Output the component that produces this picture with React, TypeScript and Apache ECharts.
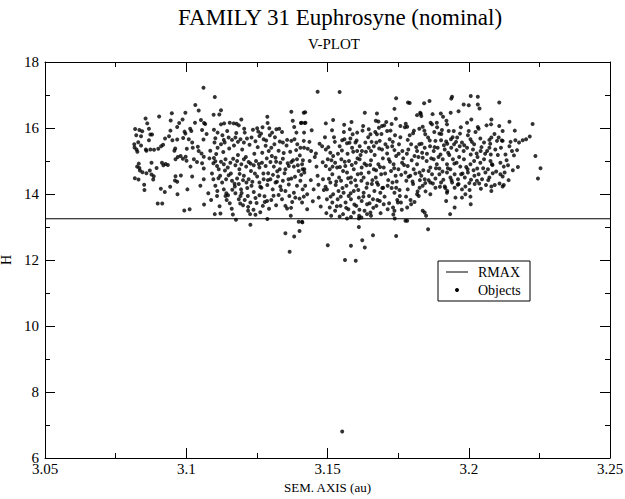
import { useEffect, useRef } from "react";
import * as echarts from "echarts";

// H vs semimajor axis (au)
const leftWing: number[][] = [
[3.0904,16.35],[3.0949,16.45],[3.0856,16.29],[3.0987,16.26],[3.0945,16.23],[3.0862,16.14],[3.0819,15.97],[3.0834,15.94],[3.0868,15.98],[3.0844,15.90],
[3.0873,15.80],[3.0823,15.78],[3.0840,15.75],[3.0879,15.80],[3.0944,15.92],[3.0975,16.15],[3.0968,16.03],[3.0994,15.89],[3.0939,15.75],[3.0925,15.68],
[3.0951,15.63],[3.0968,15.65],[3.0989,15.70],[3.0868,15.63],[3.0830,15.57],[3.0816,15.51],[3.0817,15.41],[3.0840,15.47],[3.0857,15.35],[3.0859,15.31],
[3.0827,15.28],[3.0824,15.35],[3.0873,15.35],[3.0886,15.34],[3.0901,15.37],[3.0918,15.49],[3.0911,15.45],[3.0961,15.38],[3.0958,15.31],[3.0832,14.92],
[3.0826,14.83],[3.0834,14.79],[3.0836,14.71],[3.0845,14.66],[3.0859,14.63],[3.0871,14.71],[3.0877,14.95],[3.0895,14.79],[3.0914,14.95],[3.0927,14.91],
[3.0935,14.88],[3.0919,14.87],[3.0962,15.05],[3.0988,15.07],[3.0818,14.48],[3.0831,14.44],[3.0851,14.28],[3.0852,14.12],[3.0883,14.44],[3.0885,14.54],
[3.0877,14.59],[3.0910,14.16],[3.0924,14.06],[3.0943,14.22],[3.0962,14.54],[3.0960,14.41],[3.0968,14.37],[3.0981,14.56],[3.0969,13.99],[3.0899,13.71],
[3.0915,13.71],[3.0993,13.50],[3.0998,15.13],[3.0970,15.12],[3.0980,15.15]
];

const westCore: number[][] = [
[3.1061,17.22],[3.1101,16.94],[3.1032,16.70],[3.1044,16.53],[3.1097,16.40],[3.1117,16.41],[3.1123,16.54],[3.0997,16.46],[3.1014,15.98],[3.1031,16.16],
[3.1052,16.24],[3.1063,16.15],[3.1067,16.12],[3.0997,15.83],[3.1018,15.91],[3.1056,15.94],[3.1098,15.95],[3.1111,15.86],[3.1123,16.11],[3.1134,16.14],
[3.1154,16.16],[3.1168,16.14],[3.1178,16.13],[3.1186,16.08],[3.1195,16.26],[3.1205,15.98],[3.1251,15.99],[3.1255,15.89],[3.1270,16.02],[3.1287,16.34],
[3.1288,16.15],[3.1294,15.99],[3.1304,15.86],[3.1319,15.96],[3.1329,15.98],[3.1372,16.49],[3.1377,16.22],[3.1382,16.03],[3.1390,15.86],[3.1408,16.16],
[3.1419,16.15],[3.1416,16.46],[3.1009,15.66],[3.1002,15.37],[3.1021,15.56],[3.1023,15.40],[3.1041,15.43],[3.1044,15.30],[3.1061,15.65],[3.1054,15.23],
[3.1062,15.13],[3.1103,15.69],[3.1100,15.56],[3.1111,15.40],[3.1133,15.64],[3.1136,15.56],[3.1123,15.51],[3.1150,15.71],[3.1162,15.64],[3.1174,15.71],
[3.1183,15.58],[3.1192,15.66],[3.1204,15.56],[3.1215,15.68],[3.1231,15.71],[3.1245,15.60],[3.1259,15.76],[3.1274,15.66],[3.1281,15.46],[3.1292,15.30],
[3.1301,15.40],[3.1312,15.51],[3.1331,15.59],[3.1342,15.56],[3.1357,15.64],[3.1372,15.61],[3.1383,15.66],[3.1393,15.51],[3.1404,15.40],[3.1416,15.61],
[3.1001,15.01],[3.1015,14.83],[3.1027,15.05],[3.1038,14.97],[3.1056,14.93],[3.1062,14.77],[3.1021,14.53],[3.1098,15.09],[3.1103,14.99],[3.1109,14.85],
[3.1115,14.75],[3.1123,14.98],[3.1133,14.90],[3.1139,15.05],[3.1147,14.80],[3.1156,14.95],[3.1166,15.07],[3.1174,14.87],[3.1180,15.00],[3.1188,14.75],
[3.1195,14.90],[3.1204,15.05],[3.1212,14.83],[3.1221,14.97],[3.1229,14.70],[3.1239,14.87],[3.1247,15.00],[3.1259,14.80],[3.1268,14.95],[3.1281,14.85],
[3.1290,14.63],[3.1298,14.97],[3.1310,14.83],[3.1316,15.10],[3.1322,14.69],[3.1333,14.95],[3.1342,15.07],[3.1351,14.75],[3.1363,14.85],[3.1372,14.97],
[3.1381,14.83],[3.1392,15.05],[3.1398,14.70],[3.1410,14.90],[3.1418,14.75],[3.1004,14.14],[3.1050,14.25],[3.1062,14.45],[3.1096,14.45],[3.1103,14.25],
[3.1110,14.09],[3.1120,14.55],[3.1127,14.35],[3.1133,14.14],[3.1141,14.45],[3.1150,14.57],[3.1162,14.40],[3.1172,14.23],[3.1180,14.47],[3.1186,14.30],
[3.1194,14.14],[3.1204,14.55],[3.1213,14.35],[3.1221,14.45],[3.1231,14.25],[3.1239,14.06],[3.1251,14.53],[3.1259,14.35],[3.1266,14.19],[3.1274,14.45],
[3.1287,14.27],[3.1298,14.45],[3.1306,14.14],[3.1316,14.35],[3.1325,14.53],[3.1333,14.23],[3.1342,14.40],[3.1351,14.09],[3.1363,14.29],[3.1372,14.47],
[3.1381,14.04],[3.1392,14.25],[3.1404,14.40],[3.1412,14.14],[3.1109,13.94],[3.1139,13.94],[3.1148,13.96],[3.1174,14.02],[3.1186,13.84],[3.1192,13.94],
[3.1207,13.82],[3.1218,13.94],[3.1227,13.74],[3.1245,13.88],[3.1259,13.96],[3.1278,13.76],[3.1286,13.79],[3.1318,13.66],[3.1339,13.84],[3.1351,13.64],
[3.1365,13.94],[3.1375,13.76],[3.1386,13.89],[3.1401,13.86],[3.1410,13.74],[3.1012,13.54],[3.1063,13.68],[3.1101,13.39],[3.1121,13.41],[3.1154,13.72],
[3.1165,13.38],[3.1201,13.66],[3.1219,13.49],[3.1226,13.39],[3.1245,13.37],[3.1271,13.64],[3.1287,13.24],[3.1357,13.56],[3.1370,13.34],[3.1176,13.22],
[3.1227,13.07],[3.1398,13.16],[3.1410,13.16],[3.1351,12.81],[3.1382,12.71],[3.1401,12.88],[3.1366,12.25]
];

const westCoreDense: number[][] = [
[3.1072,15.82],[3.1085,15.31],[3.1091,14.62],[3.1078,14.02],[3.1088,13.82],[3.1106,15.21],[3.1114,14.48],[3.1118,13.63],[3.1128,15.78],[3.1131,15.27],
[3.1137,14.71],[3.1142,14.02],[3.1145,15.91],[3.1152,15.38],[3.1158,14.62],[3.1161,13.55],[3.1169,15.47],[3.1171,14.31],[3.1177,15.85],[3.1183,15.18],
[3.1189,14.61],[3.1191,13.71],[3.1198,15.35],[3.1201,14.42],[3.1207,15.86],[3.1211,15.12],[3.1216,14.18],[3.1219,13.61],[3.1224,15.49],[3.1228,14.92],
[3.1234,14.37],[3.1236,15.95],[3.1241,15.22],[3.1243,14.62],[3.1249,13.73],[3.1253,15.42],[3.1257,14.91],[3.1262,14.22],[3.1265,15.83],[3.1269,15.25],
[3.1273,14.62],[3.1277,13.93],[3.1283,15.62],[3.1285,15.08],[3.1289,14.42],[3.1293,13.55],[3.1296,15.78],[3.1303,15.15],[3.1307,14.58],[3.1309,13.95],
[3.1314,15.72],[3.1318,14.98],[3.1321,14.37],[3.1327,15.31],[3.1331,14.75],[3.1336,14.12],[3.1339,15.88],[3.1345,15.24],[3.1348,14.63],[3.1355,15.47],
[3.1359,14.93],[3.1362,14.45],[3.1368,15.28],[3.1371,13.58],[3.1378,15.02],[3.1385,14.52],[3.1389,15.33],[3.1395,14.87],[3.1402,15.17],[3.1407,14.58],
[3.1413,15.02],[3.1096,14.93],[3.1082,15.08],[3.1143,13.82],[3.1163,14.13],[3.1196,14.03],[3.1238,13.52],[3.1262,13.45],[3.1301,13.82],[3.1327,13.97]
];

const eastCore: number[][] = [
[3.1465,17.10],[3.1543,17.09],[3.1743,16.90],[3.1785,16.77],[3.1791,16.76],[3.1421,16.48],[3.1632,16.46],[3.1675,16.44],[3.1737,16.58],[3.1828,16.46],
[3.1817,16.39],[3.1406,16.15],[3.1422,16.16],[3.1417,15.86],[3.1444,15.93],[3.1494,16.14],[3.1520,16.24],[3.1516,15.93],[3.1559,16.10],[3.1585,16.18],
[3.1579,15.96],[3.1589,15.81],[3.1605,15.86],[3.1626,16.06],[3.1646,15.96],[3.1652,15.81],[3.1671,16.22],[3.1680,16.20],[3.1682,16.01],[3.1675,15.81],
[3.1693,16.06],[3.1701,16.08],[3.1711,15.91],[3.1727,16.12],[3.1758,16.06],[3.1777,16.13],[3.1782,16.04],[3.1803,15.84],[3.1825,15.98],[3.1417,15.40],
[3.1430,15.37],[3.1442,15.30],[3.1459,15.23],[3.1481,15.45],[3.1494,15.35],[3.1510,15.25],[3.1520,15.15],[3.1526,15.58],[3.1543,15.45],[3.1552,15.63],
[3.1560,15.66],[3.1569,15.54],[3.1581,15.68],[3.1587,15.40],[3.1599,15.56],[3.1605,15.30],[3.1614,15.45],[3.1622,15.30],[3.1634,15.56],[3.1646,15.40],
[3.1654,15.30],[3.1664,15.45],[3.1673,15.56],[3.1685,15.61],[3.1693,15.35],[3.1705,15.51],[3.1711,15.23],[3.1720,15.66],[3.1729,15.45],[3.1737,15.33],
[3.1743,15.15],[3.1753,15.51],[3.1765,15.30],[3.1784,15.64],[3.1786,15.35],[3.1796,15.51],[3.1808,15.15],[3.1817,15.30],[3.1825,15.51],[3.1412,14.75],
[3.1418,14.65],[3.1437,15.00],[3.1465,14.55],[3.1484,14.45],[3.1494,14.85],[3.1501,15.05],[3.1508,14.75],[3.1517,14.60],[3.1527,14.95],[3.1534,14.80],
[3.1541,14.50],[3.1549,15.05],[3.1555,14.70],[3.1563,14.85],[3.1569,14.65],[3.1576,15.00],[3.1583,14.50],[3.1593,14.75],[3.1600,14.95],[3.1607,14.60],
[3.1614,15.05],[3.1621,14.80],[3.1628,14.50],[3.1638,14.87],[3.1646,14.65],[3.1654,15.02],[3.1664,14.75],[3.1671,14.50],[3.1680,14.90],[3.1690,14.60],
[3.1699,14.80],[3.1717,15.05],[3.1725,14.70],[3.1734,14.90],[3.1741,14.55],[3.1751,14.75],[3.1764,14.95],[3.1776,14.65],[3.1784,14.85],[3.1793,14.55],
[3.1805,14.75],[3.1817,14.90],[3.1826,14.65],[3.1421,14.25],[3.1428,13.99],[3.1451,14.14],[3.1493,14.22],[3.1498,14.14],[3.1510,14.35],[3.1520,13.99],
[3.1529,14.27],[3.1539,14.09],[3.1548,14.40],[3.1557,14.04],[3.1567,14.25],[3.1575,13.94],[3.1583,14.35],[3.1593,14.09],[3.1602,14.25],[3.1611,13.89],
[3.1620,14.40],[3.1628,14.04],[3.1638,14.19],[3.1647,13.94],[3.1657,14.30],[3.1666,14.09],[3.1675,14.35],[3.1687,14.04],[3.1697,14.19],[3.1713,14.25],
[3.1730,14.35],[3.1737,14.04],[3.1743,14.19],[3.1756,13.94],[3.1779,14.40],[3.1784,14.14],[3.1803,14.30],[3.1817,13.99],[3.1826,14.19],[3.1416,13.92],
[3.1428,13.54],[3.1469,13.89],[3.1498,13.84],[3.1508,13.59],[3.1517,13.74],[3.1527,13.49],[3.1536,13.84],[3.1546,13.64],[3.1555,13.39],[3.1564,13.74],
[3.1574,13.54],[3.1583,13.84],[3.1593,13.44],[3.1602,13.64],[3.1612,13.34],[3.1621,13.79],[3.1631,13.49],[3.1640,13.69],[3.1652,13.44],[3.1661,13.84],
[3.1673,13.64],[3.1685,13.79],[3.1699,13.69],[3.1713,13.54],[3.1732,13.59],[3.1737,13.49],[3.1749,13.74],[3.1760,13.74],[3.1782,13.59],[3.1796,13.69],
[3.1808,13.76],[3.1823,13.94],[3.1513,13.34],[3.1543,13.32],[3.1569,13.26],[3.1583,13.30],[3.1611,13.26],[3.1620,13.29],[3.1640,13.39],[3.1654,13.34],
[3.1738,13.26],[3.1776,13.19],[3.1782,13.19],[3.1411,13.14],[3.1611,13.00],[3.1661,12.75],[3.1743,12.73],[3.1623,12.60],[3.1632,12.38],[3.1501,12.45],
[3.1583,12.43],[3.1562,12.00],[3.1600,11.98]
];

const eastCoreDense: number[][] = [
[3.1436,15.58],[3.1441,14.42],[3.1448,13.78],[3.1455,15.12],[3.1461,14.83],[3.1468,14.28],[3.1472,15.52],[3.1476,13.62],[3.1483,14.96],[3.1487,14.12],
[3.1491,15.72],[3.1496,13.42],[3.1503,15.42],[3.1505,14.46],[3.1511,13.92],[3.1514,15.02],[3.1518,14.83],[3.1523,15.72],[3.1531,14.38],[3.1533,13.63],
[3.1537,15.22],[3.1544,14.82],[3.1547,13.92],[3.1551,15.32],[3.1553,14.18],[3.1558,15.88],[3.1561,14.98],[3.1566,13.58],[3.1571,15.22],[3.1573,14.48],
[3.1578,15.55],[3.1582,14.02],[3.1586,14.88],[3.1591,15.28],[3.1595,13.68],[3.1598,14.42],[3.1603,15.62],[3.1606,15.08],[3.1609,14.12],[3.1613,13.52],
[3.1617,15.18],[3.1619,14.62],[3.1624,15.92],[3.1627,13.92],[3.1631,14.92],[3.1636,15.28],[3.1641,14.32],[3.1644,15.72],[3.1649,13.72],[3.1651,14.88],
[3.1656,15.58],[3.1659,14.42],[3.1662,13.58],[3.1667,15.18],[3.1669,15.88],[3.1672,14.72],[3.1677,13.82],[3.1679,14.28],[3.1683,15.38],[3.1686,14.82],
[3.1688,13.42],[3.1691,15.82],[3.1694,14.18],[3.1696,15.08],[3.1702,13.92],[3.1704,14.62],[3.1708,16.18],[3.1712,15.42],[3.1715,14.42],[3.1718,13.72],
[3.1721,14.98],[3.1723,15.92],[3.1727,14.18],[3.1731,15.58],[3.1733,13.38],[3.1736,14.78],[3.1739,15.78],[3.1742,16.28],[3.1745,14.38],[3.1747,13.82],
[3.1752,15.22],[3.1755,14.12],[3.1758,15.72],[3.1761,14.58],[3.1763,13.52],[3.1768,15.08],[3.1771,14.88],[3.1774,16.02],[3.1778,13.92],[3.1781,15.22],
[3.1787,14.52],[3.1791,15.78],[3.1794,13.82],[3.1798,15.02],[3.1801,14.38],[3.1806,15.92],[3.1811,14.62],[3.1814,15.42],[3.1819,14.08],[3.1822,15.12],
[3.1827,14.42],[3.1833,15.52],[3.1839,14.72],[3.1843,15.92],[3.1847,14.08],[3.1852,15.22],[3.1858,14.42],[3.1862,15.62],[3.1867,15.08],[3.1873,14.32],
[3.1879,15.42],[3.1884,14.78],[3.1888,16.02],[3.1893,15.12],[3.1898,14.22],[3.1903,15.82],[3.1907,14.68],[3.1912,15.48],[3.1917,14.18],[3.1921,16.22],
[3.1926,14.78],[3.1931,15.18],[3.1939,14.42],[3.1943,15.72],[3.1949,14.92],[3.1955,15.58],[3.1961,14.28],[3.1966,15.12],[3.1972,16.02],[3.1978,14.62],
[3.1984,15.48],[3.1991,14.82],[3.1997,15.78],[3.2003,14.12],[3.2011,15.58],[3.2017,14.72],[3.2024,15.88],[3.2031,15.12],[3.2037,14.32],[3.2045,15.42],
[3.2051,14.78],[3.2058,15.22],[3.2063,16.08],[3.2069,14.42],[3.2076,15.52],[3.2084,14.88],[3.2091,15.82],[3.2097,14.68],[3.2103,15.18],[3.2109,14.32],
[3.2117,15.62],[3.2134,15.02],[3.2141,14.42],[3.2148,15.58],[3.2156,14.72],[3.2163,15.92]
];

const rightWing: number[][] = [
[3.1941,16.95],[3.1938,16.89],[3.2007,16.97],[3.2032,16.95],[3.1861,16.82],[3.1842,16.75],[3.1982,16.71],[3.2000,16.69],[3.2032,16.71],[3.2038,16.59],
[3.1964,16.51],[3.2108,16.77],[3.1830,16.43],[3.1832,16.36],[3.1872,16.42],[3.1901,16.44],[3.1909,16.34],[3.1936,16.46],[3.1837,16.04],[3.1865,16.16],
[3.1870,16.11],[3.1887,16.16],[3.1923,16.11],[3.1905,15.94],[3.1896,15.83],[3.1929,15.91],[3.1947,15.91],[3.1969,15.83],[3.1994,16.16],[3.2009,16.26],
[3.2032,16.03],[3.2035,15.98],[3.2080,16.26],[3.2079,16.11],[3.2108,16.06],[3.2120,15.91],[3.2144,16.19],[3.2226,16.12],[3.1846,15.81],[3.1856,15.71],
[3.1878,15.88],[3.1882,15.61],[3.1902,15.63],[3.1920,15.59],[3.1924,15.52],[3.1937,15.66],[3.1948,15.51],[3.1959,15.71],[3.1976,15.56],[3.2000,15.91],
[3.2006,15.66],[3.2019,15.51],[3.2041,15.68],[3.2054,15.56],[3.2073,15.64],[3.2080,15.71],[3.2100,15.61],[3.2106,15.71],[3.2120,15.61],[3.2165,15.63],
[3.2178,15.56],[3.2191,15.63],[3.2203,15.66],[3.2216,15.74],[3.2144,15.45],[3.1835,15.25],[3.1844,15.40],[3.1863,15.45],[3.1876,15.30],[3.1890,15.40],
[3.1900,15.20],[3.1915,15.35],[3.1927,15.25],[3.1938,15.40],[3.1957,15.33],[3.1968,15.45],[3.1982,15.30],[3.1994,15.40],[3.2007,15.20],[3.2015,15.35],
[3.2028,15.23],[3.2042,15.30],[3.2065,15.30],[3.2073,15.40],[3.2078,15.20],[3.2094,15.35],[3.2114,15.40],[3.2130,15.20],[3.2153,15.30],[3.2160,15.17],
[3.2171,15.33],[3.2236,15.15],[3.1837,15.10],[3.1851,15.00],[3.1864,14.80],[3.1876,15.05],[3.1887,14.90],[3.1896,14.77],[3.1908,15.05],[3.1923,14.90],
[3.1935,14.75],[3.1944,15.05],[3.1957,14.95],[3.1970,14.83],[3.1983,15.05],[3.1996,14.75],[3.2006,14.90],[3.2019,15.00],[3.2030,14.77],[3.2041,14.95],
[3.2054,15.05],[3.2068,14.75],[3.2077,15.00],[3.2082,14.90],[3.2112,14.95],[3.2124,14.83],[3.2139,14.87],[3.2174,14.82],[3.2254,14.78],[3.1832,14.55],
[3.1844,14.45],[3.1858,14.70],[3.1870,14.60],[3.1882,14.47],[3.1896,14.60],[3.1910,14.43],[3.1923,14.65],[3.1935,14.50],[3.1950,14.60],[3.1962,14.45],
[3.1973,14.60],[3.1986,14.50],[3.1997,14.65],[3.2008,14.43],[3.2020,14.55],[3.2035,14.60],[3.2047,14.45],[3.2059,14.65],[3.2073,14.50],[3.2085,14.63],
[3.2112,14.60],[3.2120,14.53],[3.2127,14.65],[3.1837,14.25],[3.1846,14.33],[3.1864,14.35],[3.1882,14.19],[3.1902,14.35],[3.1915,14.23],[3.1924,14.09],
[3.1941,14.35],[3.1950,14.19],[3.1964,14.30],[3.1976,14.14],[3.1988,14.23],[3.2002,14.33],[3.2021,14.30],[3.2029,14.40],[3.2043,14.16],[3.2061,14.27],
[3.2080,14.23],[3.2092,14.27],[3.2120,14.23],[3.2124,14.27],[3.2245,14.47],[3.1864,13.99],[3.1923,14.04],[3.1953,13.89],[3.1976,13.89],[3.1988,13.99],
[3.2006,13.92],[3.2007,13.69],[3.2080,14.09],[3.1920,13.79],[3.1950,13.59],[3.1934,13.39],[3.1837,13.49],[3.1844,13.44],[3.1849,13.34],[3.1856,12.93]
];

const farOutliers: number[][] = [[3.1552, 6.8]];

const rmaxH = 13.25;
const xRange = [3.05, 3.25];
const yRange = [6, 18];
const xStep = 0.05;
const yStep = 2;

const titleText = "FAMILY 31 Euphrosyne (nominal)";
const subtitleText = "V-PLOT";
const xName = "SEM. AXIS (au)";
const yName = "H";
const legendNames = ["RMAX", "Objects"];

const FONT = "'Liberation Serif', 'DejaVu Serif', serif";

export default function App() {
  const ref = useRef<HTMLDivElement>(null);
  useEffect(() => {
    document.body.style.margin = "0";
    const chart = echarts.init(ref.current!, null, { renderer: "svg" });
    const axisCommon = {
      type: "value" as const,
      axisLine: { show: true, onZero: false, lineStyle: { color: "#000", width: 1 } },
      axisTick: { show: true, inside: true, length: 10, lineStyle: { color: "#000", width: 1 } },
      minorTick: { show: true, splitNumber: 2, length: 5, lineStyle: { color: "#000", width: 1 } },
      splitLine: { show: false },
      minorSplitLine: { show: false },
    };
    const fmt = (v: number) => String(+v.toFixed(2));
    const points = [...leftWing, ...westCore, ...westCoreDense, ...eastCore, ...eastCoreDense, ...rightWing, ...farOutliers];
    const lx = 438, ly = 261, lw = 92, lh = 40;
    chart.setOption({
      animation: false,
      backgroundColor: "#fff",
      grid: { left: 45, right: 15, top: 62, bottom: 41, containLabel: false, outerBoundsMode: "none" },
      xAxis: [
        {
          ...axisCommon,
          position: "bottom",
          min: xRange[0], max: xRange[1], interval: xStep,
          axisLabel: { color: "#000", fontFamily: FONT, fontSize: 15, margin: 3, formatter: fmt },
          name: xName, nameLocation: "middle", nameGap: 22,
          nameTextStyle: { color: "#000", fontFamily: FONT, fontSize: 13 },
        },
        {
          ...axisCommon,
          position: "top",
          min: xRange[0], max: xRange[1], interval: xStep,
          axisLabel: { show: false },
        },
      ],
      yAxis: [
        {
          ...axisCommon,
          position: "left",
          min: yRange[0], max: yRange[1], interval: yStep,
          axisLabel: { color: "#000", fontFamily: FONT, fontSize: 15, margin: 6, formatter: fmt },
          name: yName, nameLocation: "middle", nameGap: 25, nameRotate: 90,
          nameTextStyle: { color: "#000", fontFamily: FONT, fontSize: 14 },
        },
        {
          ...axisCommon,
          position: "right",
          min: yRange[0], max: yRange[1], interval: yStep,
          axisLabel: { show: false },
        },
      ],
      series: [
        {
          name: legendNames[0],
          type: "line",
          data: [[xRange[0], rmaxH], [xRange[1], rmaxH]],
          symbol: "none",
          lineStyle: { color: "#000", width: 1 },
          silent: true,
          z: 3,
        },
        {
          name: legendNames[1],
          type: "scatter",
          data: points,
          symbol: "circle",
          symbolSize: 4,
          itemStyle: { color: "#000" },
          silent: true,
          z: 4,
        },
      ],
      graphic: [
        { type: "text", x: 340, y: 6, style: { text: titleText, fill: "#000", font: `23px ${FONT}`, textAlign: "center" } },
        { type: "text", x: 334, y: 36, style: { text: subtitleText, fill: "#000", font: `15px ${FONT}`, textAlign: "center" } },
        { type: "rect", shape: { x: lx, y: ly, width: lw, height: lh }, style: { fill: "#fff", stroke: "#000", lineWidth: 1 }, z: 10 },
        { type: "line", shape: { x1: lx + 8, y1: ly + 11, x2: lx + 30, y2: ly + 11 }, style: { stroke: "#000", lineWidth: 1 }, z: 11 },
        { type: "circle", shape: { cx: lx + 19, cy: ly + 29, r: 2 }, style: { fill: "#000" }, z: 11 },
        { type: "text", x: lx + 40, y: ly + 11, style: { text: legendNames[0], fill: "#000", font: `14px ${FONT}`, textVerticalAlign: "middle" }, z: 11 },
        { type: "text", x: lx + 40, y: ly + 29, style: { text: legendNames[1], fill: "#000", font: `14px ${FONT}`, textVerticalAlign: "middle" }, z: 11 },
      ],
    });
    return () => chart.dispose();
  }, []);
  return <div ref={ref} style={{ width: 625, height: 499 }} />;
}
